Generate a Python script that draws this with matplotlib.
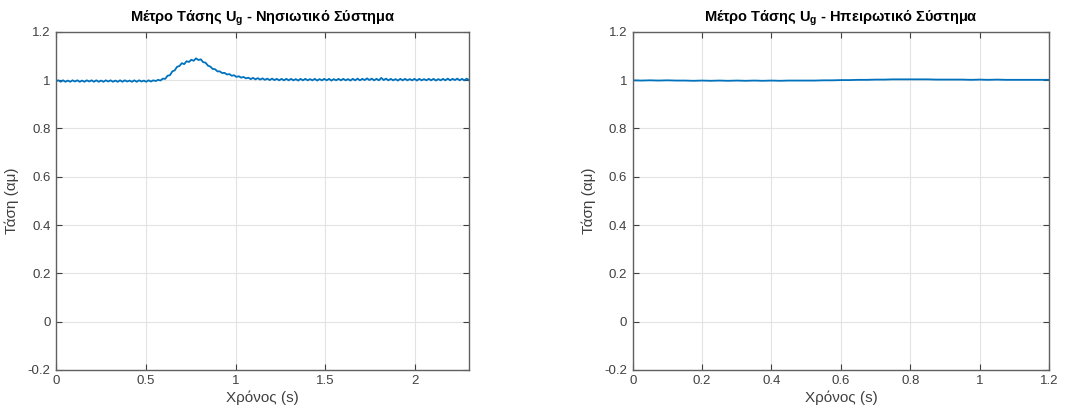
import matplotlib.pyplot as plt
import numpy as np
from matplotlib.ticker import FuncFormatter

plt.rcParams['font.family'] = ['Liberation Sans', 'DejaVu Sans']
plt.rcParams['mathtext.fontset'] = 'custom'
plt.rcParams['mathtext.rm'] = 'Liberation Sans'
plt.rcParams['mathtext.bf'] = 'Liberation Sans:bold'
plt.rcParams['mathtext.it'] = 'Liberation Sans:italic'

## DATA
# island system, sampled every 0.0125 s from 0 to 2.3 s
u_island = [
    0.995, 0.999, 0.993, 0.999, 0.993, 0.998, 0.993, 0.999, 0.994, 0.999,
    0.993, 0.998, 0.993, 0.999, 0.994, 0.999, 0.993, 0.999, 0.993, 0.998,
    0.993, 0.999, 0.994, 0.999, 0.993, 0.998, 0.993, 0.999, 0.993, 0.999,
    0.994, 0.998, 0.993, 0.999, 0.993, 0.999, 0.994, 0.998, 0.993, 0.999,
    0.994,
    0.999, 0.996, 1.001, 0.998, 1.006, 1.005, 1.018, 1.020, 1.036, 1.040,
    1.055, 1.058, 1.070, 1.066, 1.078, 1.075, 1.084, 1.080, 1.090, 1.083,
    1.086, 1.074, 1.072, 1.060, 1.056, 1.046, 1.045, 1.036, 1.036, 1.029,
    1.030, 1.023, 1.025, 1.018, 1.020, 1.013, 1.016, 1.010, 1.013, 1.007,
    1.010, 1.004, 1.009, 1.003, 1.008, 1.002, 1.007, 1.001, 1.006, 1.000,
    1.006, 1.000, 1.005, 0.999, 1.005, 0.999,
    1.005, 0.999, 1.005, 0.999, 1.004, 0.998, 1.005, 0.999, 1.005, 0.999,
    1.004, 0.999, 1.005, 0.998, 1.004, 0.999, 1.005, 0.999, 1.005, 0.998,
    1.004, 0.999, 1.005, 0.999, 1.005, 0.999, 1.004, 0.998, 1.005, 0.999,
    1.006, 0.999, 1.005, 1.000, 1.007, 1.000, 1.006, 0.999, 1.005, 0.999,
    1.009, 1.000, 1.006, 0.999, 1.005, 0.999, 1.004, 0.998, 1.005, 0.999,
    1.005, 0.999, 1.004, 0.999, 1.005, 0.998, 1.005, 0.999, 1.004, 0.999,
    1.005, 0.999, 1.005, 0.998, 1.004, 0.999, 1.005, 0.999, 1.006, 0.999,
    1.005, 1.000, 1.006, 0.999, 1.005, 0.999, 1.006, 0.999,
]
t_island_end = 2.3

# mainland system, sampled every 0.025 s from 0 to 1.2 s
u_main = [
    0.999, 0.998, 0.999, 0.998, 0.999, 0.998, 0.998, 0.997, 0.998, 0.997,
    0.998, 0.997, 0.998, 0.997, 0.998, 0.997, 0.998, 0.997, 0.998, 0.998,
    0.998, 0.998, 0.999, 0.999, 1.000, 1.000, 1.001, 1.001, 1.002, 1.002,
    1.003, 1.003, 1.003, 1.003, 1.003, 1.002, 1.002, 1.002, 1.002, 1.001,
    1.002, 1.001, 1.002, 1.001, 1.001, 1.001, 1.001, 1.001, 1.001,
]
t_main_end = 1.2

titles = ['Μέτρο Τάσης $\\mathbf{U_g}$ - Νησιωτικό Σύστημα',
          'Μέτρο Τάσης $\\mathbf{U_g}$ - Ηπειρωτικό Σύστημα']
xticks_island = [0, 0.5, 1, 1.5, 2]
xticks_main = [0, 0.2, 0.4, 0.6, 0.8, 1, 1.2]
yticks = [-0.2, 0, 0.2, 0.4, 0.6, 0.8, 1, 1.2]

t_island = np.linspace(0, t_island_end, len(u_island))
t_main = np.linspace(0, t_main_end, len(u_main))

fig = plt.figure(figsize=(10.76, 4.18), dpi=100)
ax1 = fig.add_axes([0.052, 0.115, 0.384, 0.809])
ax2 = fig.add_axes([0.588, 0.115, 0.387, 0.809])

fmt = FuncFormatter(lambda v, p: '%g' % round(v, 4))

for ax, t, u, xt, xmax, title in [(ax1, t_island, u_island, xticks_island, t_island_end, titles[0]),
                                  (ax2, t_main, u_main, xticks_main, t_main_end, titles[1])]:
    ax.plot(t, u, color='#0072BD', linewidth=1.3)        # voltage trace
    ax.set_xlim(0, xmax)
    ax.set_ylim(-0.2, 1.2)
    ax.set_xticks(xt)
    ax.set_yticks(yticks)
    ax.xaxis.set_major_formatter(fmt)
    ax.yaxis.set_major_formatter(fmt)
    ax.grid(True, color='#e3e3e3', linewidth=0.8)
    ax.tick_params(direction='in', top=True, right=True, length=4,
                   labelsize=9.5, colors='#404040', pad=4)
    for s in ax.spines.values():
        s.set_color('#606060')
        s.set_linewidth(1.0)
    ax.set_xlabel('Χρόνος (s)', fontsize=11, color='#404040', labelpad=2)
    ax.set_ylabel('Τάση (αμ)', fontsize=11, color='#404040', labelpad=6)
    ax.set_title(title, fontsize=10.5, fontweight='bold', pad=7)

fig.savefig('out.png', dpi=100)
